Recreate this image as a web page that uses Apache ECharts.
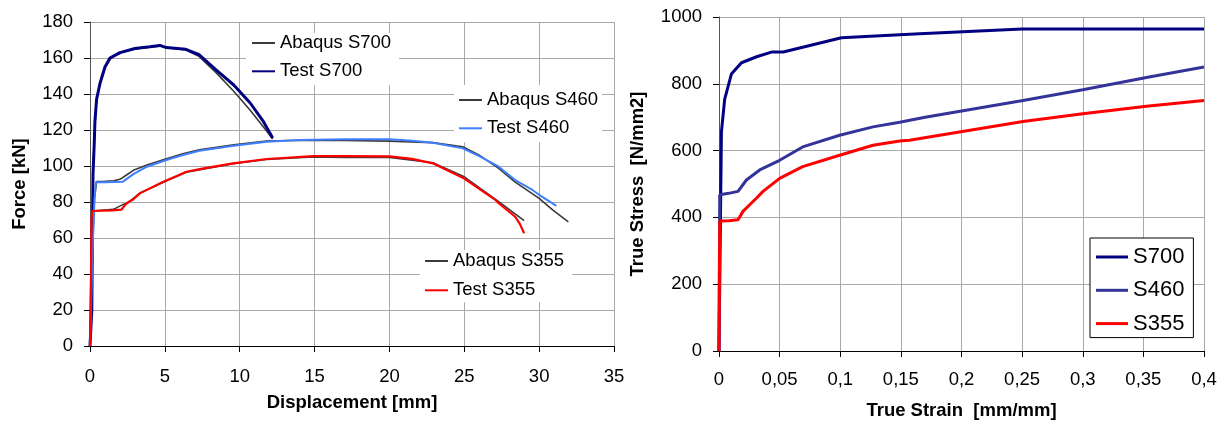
<!DOCTYPE html>
<html>
<head>
<meta charset="utf-8">
<title>Force-displacement and true stress-strain</title>
<script src="https://cdn.jsdelivr.net/npm/echarts@6/dist/echarts.min.js"></script>
<style>
  html, body { margin: 0; padding: 0; background: #fff; }
  #chart { width: 1228px; height: 425px; }
</style>
</head>
<body>
<div id="chart"></div>
<script>
// left chart: force [kN] vs displacement [mm]
const dispTicks = [0, 5, 10, 15, 20, 25, 30, 35]
const forceTicks = [0, 20, 40, 60, 80, 100, 120, 140, 160, 180]

const abaqusS700 = [[0, 0], [0.15, 60], [0.22, 100], [0.3, 118], [0.45, 138], [0.7, 147], [1, 154.5], [1.4, 159.8], [2, 162.8], [3, 165], [4, 166], [4.7, 166.7], [5.2, 165.7], [6.4, 164.5], [7.3, 160.8], [8.4, 152], [9.6, 141.5], [10.7, 131], [11.6, 121.5], [12.2, 115]]
const testS700 = [[0, 0], [0.12, 20], [0.16, 60], [0.2, 95], [0.29, 114], [0.33, 125], [0.44, 137], [0.67, 146], [1, 155], [1.33, 160], [2, 163], [3, 165.3], [4, 166.2], [4.67, 167], [5.1, 165.8], [6.4, 164.8], [7.3, 161.8], [8.4, 153.5], [9.6, 145], [10.7, 135], [11.6, 124.5], [12.2, 115.5]]
const abaqusS460 = [[0, 0], [0.1, 30], [0.2, 60], [0.3, 82], [0.44, 91.3], [1, 91.5], [1.6, 91.8], [2, 92.6], [2.44, 95], [2.9, 97.6], [3.8, 100.5], [5.1, 104], [6.2, 106.8], [7.3, 109], [9.6, 111.8], [11.8, 113.8], [14, 114.3], [17, 114.2], [20, 113.8], [22.9, 113], [24.9, 110.7], [26, 106], [27.3, 98.7], [28.4, 91], [30, 82], [30.9, 75.6], [31.95, 69]]
const testS460 = [[0, 0], [0.1, 30], [0.2, 60], [0.3, 82], [0.4, 91], [1, 91], [2.2, 91.3], [2.9, 95.5], [3.8, 99.6], [5.1, 103.3], [6.2, 106.1], [7.3, 108.5], [9.6, 111.3], [11.8, 113.5], [14, 114.4], [17, 114.8], [20, 114.8], [21.5, 114], [22.9, 112.9], [24.9, 109.8], [26, 105.5], [27.3, 99.6], [28.4, 92.2], [29.55, 86.7], [30, 84], [31.15, 77.8]]
const abaqusS355 = [[0, 0], [0.1, 70], [0.15, 75], [1.56, 75.9], [2.22, 78.7], [2.44, 79], [3.33, 85], [4.9, 91], [6.44, 96.5], [9.56, 101.3], [11.8, 103.6], [14.9, 105], [17, 104.8], [20, 104.8], [22.9, 101.8], [25, 94], [27.3, 80.2], [29, 69.6]]
const testS355 = [[0, 0], [0.07, 40], [0.1, 70], [0.15, 75], [1.5, 75.3], [2.1, 75.8], [2.44, 79.3], [2.9, 81.5], [3.33, 84.8], [4.9, 91.3], [6.44, 96.8], [7.5, 98.5], [9.56, 101.5], [11.8, 103.9], [14.9, 105.5], [17, 105.5], [20, 105.3], [21.5, 104], [22.9, 101.5], [25, 93], [27.1, 81], [27.3, 79.3], [28.4, 71.8], [28.7, 68], [29, 62.6]]

// right chart: true stress [N/mm2] vs true strain [mm/mm]
const strainTicks = [0, 0.05, 0.1, 0.15, 0.2, 0.25, 0.3, 0.35, 0.4]
const stressTicks = [0, 200, 400, 600, 800, 1000]

const trueS700 = [[0, 0], [0.002, 656], [0.0047, 754], [0.0102, 829], [0.0185, 863], [0.031, 881], [0.0432, 895], [0.053, 895], [0.101, 938], [0.149, 947], [0.1655, 950], [0.25, 964], [0.4, 964]]
const trueS460 = [[0, 0], [0.0006, 468], [0.008, 472], [0.0157, 478], [0.0226, 512], [0.0336, 542], [0.05, 571], [0.069, 611], [0.0995, 646], [0.127, 671], [0.149, 685], [0.17, 700], [0.2507, 750], [0.3, 782], [0.3525, 819], [0.4, 850]]
const trueS355 = [[0, 0], [0.0006, 389], [0.008, 390], [0.0157, 393], [0.0198, 418], [0.0253, 438], [0.031, 458], [0.0363, 478], [0.05, 517], [0.069, 552], [0.0995, 586], [0.127, 616], [0.149, 629], [0.157, 631], [0.2507, 687], [0.3, 710], [0.3525, 733], [0.4, 750]]

const FONT = 'Liberation Sans'
const gridColor = '#a8a8a8'

function tickLabel(margin, formatter) {
  return { color: '#000', fontFamily: FONT, fontSize: 18.5, margin: margin, formatter: formatter || ((v) => String(v)) }
}

function valueAxis(ticks, extra) {
  return Object.assign({
    type: 'value',
    min: ticks[0],
    max: ticks[ticks.length - 1],
    interval: ticks[1] - ticks[0],
    axisLine: { show: true, lineStyle: { color: '#000', width: 1 } },
    axisTick: { show: true, length: 6, lineStyle: { color: '#000' } },
    splitLine: { show: true, lineStyle: { color: gridColor, width: 1 } },
    nameLocation: 'middle',
    nameTextStyle: { color: '#000', fontFamily: FONT, fontSize: 18.5, fontWeight: 'bold' }
  }, extra)
}

function line(name, data, color, width, xi) {
  return {
    type: 'line',
    name: name,
    data: data,
    xAxisIndex: xi,
    yAxisIndex: xi,
    color: color,
    symbol: 'none',
    lineStyle: { color: color, width: width },
    animation: false
  }
}

function legendBox(names, left, top, padding, gap) {
  return {
    data: names,
    orient: 'vertical',
    left: left,
    top: top,
    padding: padding,
    itemGap: gap,
    icon: 'rect',
    itemWidth: 23,
    itemHeight: 2,
    backgroundColor: '#fff',
    textStyle: { color: '#000', fontFamily: FONT, fontSize: 18.5, lineHeight: 20 }
  }
}

const chart = echarts.init(document.getElementById('chart'))
chart.setOption({
  animation: false,
  grid: [
    { left: 90, top: 22, width: 524, height: 324 },
    { left: 719, top: 17, width: 485, height: 337 }
  ],
  xAxis: [
    valueAxis(dispTicks, { gridIndex: 0, name: 'Displacement [mm]', nameGap: 47, axisLabel: tickLabel(21) }),
    valueAxis(strainTicks, {
      gridIndex: 1,
      name: 'True Strain  [mm/mm]',
      nameGap: 50,
      axisLabel: tickLabel(19, (v) => String(+v.toFixed(2)).replace('.', ','))
    })
  ],
  yAxis: [
    valueAxis(forceTicks, { gridIndex: 0, name: 'Force [kN]', nameGap: 61, axisLine: { show: true, lineStyle: { color: '#555' } }, axisLabel: tickLabel(17) }),
    valueAxis(stressTicks, { gridIndex: 1, name: 'True Stress  [N/mm2]', nameGap: 72, axisLine: { show: true, lineStyle: { color: '#555' } }, axisLabel: tickLabel(17) })
  ],
  legend: [
    legendBox(['Abaqus S700', 'Test S700'], 246, 33, [0, 8, 4, 6], 8.3),
    legendBox(['Abaqus S460', 'Test S460'], 454, 85, [5, 4, 4, 5], 8.3),
    legendBox(['Abaqus S355', 'Test S355'], 420, 250, [1, 8, 2, 5], 9.3),
    {
      data: ['S700', 'S460', 'S355'],
      orient: 'vertical',
      left: 1090,
      top: 238,
      padding: [7, 9, 2, 6],
      itemGap: 9.3,
      icon: 'rect',
      itemWidth: 32,
      itemHeight: 3,
      backgroundColor: '#fff',
      borderColor: '#000',
      borderWidth: 1,
      textStyle: { color: '#000', fontFamily: FONT, fontSize: 22, lineHeight: 24 }
    }
  ],
  series: [
    line('Abaqus S700', abaqusS700, '#3a3a3a', 1.6, 0),
    line('Abaqus S460', abaqusS460, '#3a3a3a', 1.6, 0),
    line('Abaqus S355', abaqusS355, '#3a3a3a', 1.6, 0),
    line('Test S700', testS700, '#000080', 3, 0),
    line('Test S460', testS460, '#3f7fff', 2, 0),
    line('Test S355', testS355, '#ff0000', 2.2, 0),
    line('S700', trueS700, '#000080', 3, 1),
    line('S460', trueS460, '#333399', 3, 1),
    line('S355', trueS355, '#ff0000', 3, 1)
  ]
})
</script>
</body>
</html>
